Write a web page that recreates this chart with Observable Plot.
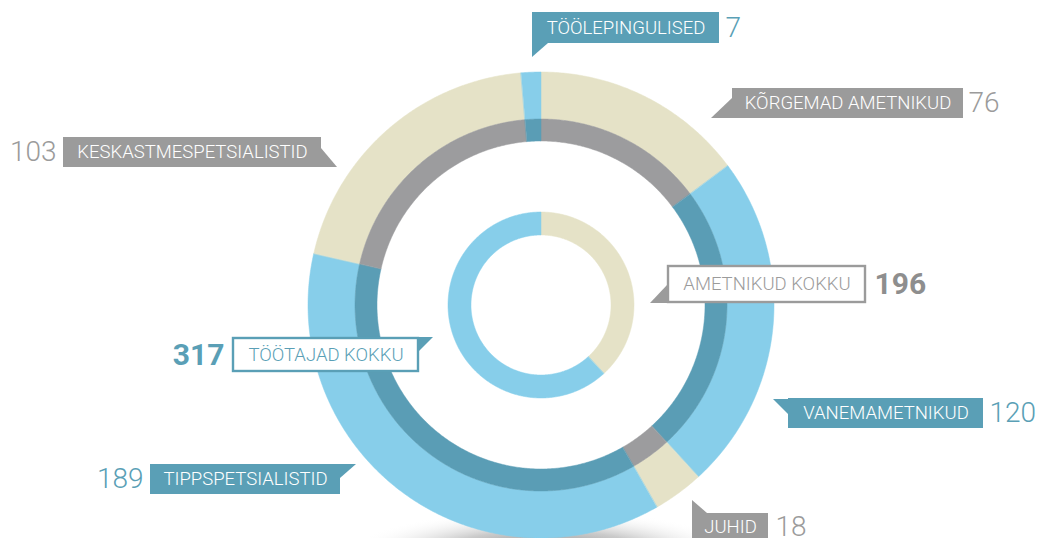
<!DOCTYPE html>
<html><head><meta charset="utf-8">
<script src="https://cdn.jsdelivr.net/npm/d3@7"></script>
<script src="https://cdn.jsdelivr.net/npm/@observablehq/plot@0.6"></script>
<style>html,body{margin:0;padding:0;background:#fff;overflow:hidden}</style>
</head><body><div id="chart"></div>
<script>
// ---------- DATA ----------
const categories = ["KÕRGEMAD AMETNIKUD", "VANEMAMETNIKUD", "JUHID", "TIPPSPETSIALISTID", "KESKASTMESPETSIALISTID", "TÖÖLEPINGULISED"];
const categoryValues = [76, 120, 18, 189, 103, 7];
const totals = ["AMETNIKUD KOKKU", "TÖÖTAJAD KOKKU"];
const totalValues = [196, 317];

// ---------- STYLE / LAYOUT ----------
const W = 1039, H = 538, CX = 541, CY = 305;
const colors = {sand: "#e5e2c7", sky: "#87ceea", sandDark: "#9c9c9e", skyDark: "#5a9db5", grayLabel: "#9b9b9b", tealLabel: "#5a9fb6"};
const categoryTone = ["sand", "sky", "sand", "sky", "sand", "sky"];
const totalTone = ["sand", "sky"];
const radii = {outerOut: 233, outerMid: 186, outerIn: 164, innerOut: 93, innerIn: 70};
const FONT = "Roboto, 'Open Sans', sans-serif";

// label boxes in pixel coordinates: [left, right, top, bottom]; tail triangles in pixels
const categoryLayout = [
  {box: [732, 963, 88, 118], tail: [[732, 98], [732, 118], [711, 118]], valueX: 968, anchor: "start", ty: 103},
  {box: [788, 983, 398, 428], tail: [[773, 399], [788, 399], [788, 414]], valueX: 989, anchor: "start", ty: 413},
  {box: [692, 768, 513, 548], tail: [[692, 500], [707, 513], [692, 513]], valueX: 775, anchor: "start", ty: 527},
  {box: [150, 340, 464, 494], tail: [[340, 464], [356, 464], [340, 478]], valueX: 143, anchor: "end", ty: 479},
  {box: [63, 321, 137, 167], tail: [[321, 148], [337, 167], [321, 167]], valueX: 56, anchor: "end", ty: 152},
  {box: [532, 719, 12, 43], tail: [[532, 43], [548, 43], [532, 57]], valueX: 725, anchor: "start", ty: 27.5}
];
const totalLayout = [
  {box: [668, 865, 266, 302], tail: [[667, 285], [667, 303], [650, 303]], valueX: 874, anchor: "start", ty: 284},
  {box: [233, 418, 338, 371], tail: [[418, 337], [433, 337], [418, 352]], valueX: 224, anchor: "end", ty: 355}
];

const toX = px => px - CX;
const toY = py => CY - py;

// ---------- GEOMETRY (derived from data) ----------
function arcSamples(key, a0, a1, r0, r1, fill) {
  const n = Math.max(2, Math.ceil((a1 - a0) / (Math.PI / 360)));
  return d3.range(n + 1).map(i => {
    const a = a0 + (a1 - a0) * i / n;
    return {key, fill, x1: r0 * Math.sin(a), y1: r0 * Math.cos(a), x2: r1 * Math.sin(a), y2: r1 * Math.cos(a)};
  });
}
const pie = d3.pie().sort(null).value(d => d);
const outerArcs = pie(categoryValues);
const innerArcs = pie(totalValues);

const ringData = [];
outerArcs.forEach((a, i) => {
  const t = categoryTone[i];
  ringData.push(...arcSamples("o" + i, a.startAngle, a.endAngle, radii.outerMid, radii.outerOut, colors[t]));
  ringData.push(...arcSamples("d" + i, a.startAngle, a.endAngle, radii.outerIn, radii.outerMid, colors[t + "Dark"]));
});
innerArcs.forEach((a, i) => {
  ringData.push(...arcSamples("i" + i, a.startAngle, a.endAngle, radii.innerIn, radii.innerOut, colors[totalTone[i]]));
});

// label shapes
const labelColor = t => t === "sand" ? colors.grayLabel : colors.tealLabel;
const boxes = [], tails = [], labelTexts = [], valueTexts = [];
categories.forEach((c, i) => {
  const L = categoryLayout[i], col = labelColor(categoryTone[i]);
  boxes.push({x1: toX(L.box[0]), x2: toX(L.box[1]), y1: toY(L.box[2]), y2: toY(L.box[3]), fill: col});
  const [p0, p1, p2] = L.tail;
  tails.push({key: "t" + i, fill: col, x1: toX(p0[0]), y1: toY(p0[1]), x2: toX(p0[0]), y2: toY(p0[1])});
  tails.push({key: "t" + i, fill: col, x1: toX(p1[0]), y1: toY(p1[1]), x2: toX(p2[0]), y2: toY(p2[1])});
  labelTexts.push({x: toX((L.box[0] + L.box[1]) / 2), y: toY(L.ty), text: c, fill: "#ffffff"});
  valueTexts.push({x: toX(L.valueX), y: toY(L.ty), text: String(categoryValues[i]), fill: col, anchor: L.anchor});
});
const totalBoxes = [], totalLabels = [], totalValueTexts = [];
totals.forEach((c, i) => {
  const L = totalLayout[i], col = labelColor(totalTone[i]);
  totalBoxes.push({x1: toX(L.box[0]), x2: toX(L.box[1]), y1: toY(L.box[2]), y2: toY(L.box[3]), stroke: col});
  const [p0, p1, p2] = L.tail;
  tails.push({key: "T" + i, fill: col, x1: toX(p0[0]), y1: toY(p0[1]), x2: toX(p0[0]), y2: toY(p0[1])});
  tails.push({key: "T" + i, fill: col, x1: toX(p1[0]), y1: toY(p1[1]), x2: toX(p2[0]), y2: toY(p2[1])});
  totalLabels.push({x: toX((L.box[0] + L.box[1]) / 2), y: toY((L.box[2] + L.box[3]) / 2), text: c, fill: col});
  totalValueTexts.push({x: toX(L.valueX), y: toY(L.ty), text: String(totalValues[i]), fill: i === 0 ? "#8e8e8e" : colors.tealLabel});
});

const labelStyle = {fontSize: 18.5, fontWeight: 300, fontFamily: FONT, textAnchor: "middle", lineAnchor: "middle"};
const svg = Plot.plot({
  width: W, height: H,
  margin: 0,
  style: {background: "#fff", fontFamily: FONT},
  x: {domain: [-CX, W - CX], range: [0, W], axis: null},
  y: {domain: [-(H - CY), CY], range: [H, 0], axis: null},
  color: {type: "identity"},
  marks: [
    Plot.area(ringData, {x1: "x1", y1: "y1", x2: "x2", y2: "y2", z: "key", fill: "fill", stroke: "fill", strokeWidth: 0.5}),
    Plot.area(tails, {x1: "x1", y1: "y1", x2: "x2", y2: "y2", z: "key", fill: "fill"}),
    Plot.rect(boxes, {x1: "x1", x2: "x2", y1: "y1", y2: "y2", fill: "fill"}),
    Plot.rect(totalBoxes, {x1: "x1", x2: "x2", y1: "y1", y2: "y2", fill: "#ffffff", stroke: "stroke", strokeWidth: 2.4}),
    Plot.text(labelTexts, {x: "x", y: "y", text: "text", fill: "fill", ...labelStyle}),
    Plot.text(totalLabels, {x: "x", y: "y", text: "text", fill: "fill", ...labelStyle}),
    Plot.text(valueTexts.filter(d => d.anchor === "start"), {x: "x", y: "y", text: "text", fill: "fill", fontSize: 28, fontWeight: 300, fontFamily: FONT, textAnchor: "start", lineAnchor: "middle"}),
    Plot.text(valueTexts.filter(d => d.anchor === "end"), {x: "x", y: "y", text: "text", fill: "fill", fontSize: 28, fontWeight: 300, fontFamily: FONT, textAnchor: "end", lineAnchor: "middle"}),
    Plot.text(totalValueTexts.slice(0, 1), {x: "x", y: "y", text: "text", fill: "fill", fontSize: 30, fontWeight: 700, fontFamily: FONT, textAnchor: "start", lineAnchor: "middle"}),
    Plot.text(totalValueTexts.slice(1), {x: "x", y: "y", text: "text", fill: "fill", fontSize: 30, fontWeight: 700, fontFamily: FONT, textAnchor: "end", lineAnchor: "middle"})
  ]
});

// soft floor shadow under the rings (decoration)
const ns = "http://www.w3.org/2000/svg";
const defs = document.createElementNS(ns, "defs");
defs.innerHTML = '<radialGradient id="floorShadow" cx="50%" cy="50%" r="50%">' +
  '<stop offset="0%" stop-color="#6a6a6a" stop-opacity="1"/>' +
  '<stop offset="55%" stop-color="#a8a8a8" stop-opacity="0.6"/>' +
  '<stop offset="100%" stop-color="#ffffff" stop-opacity="0"/></radialGradient>';
const ell = document.createElementNS(ns, "ellipse");
ell.setAttribute("cx", CX + 4); ell.setAttribute("cy", 556);
ell.setAttribute("rx", 200); ell.setAttribute("ry", 46);
ell.setAttribute("fill", "url(#floorShadow)");
const firstG = svg.querySelector("g");
svg.insertBefore(defs, firstG);
svg.insertBefore(ell, firstG);

document.getElementById("chart").appendChild(svg);
</script>
</body></html>
